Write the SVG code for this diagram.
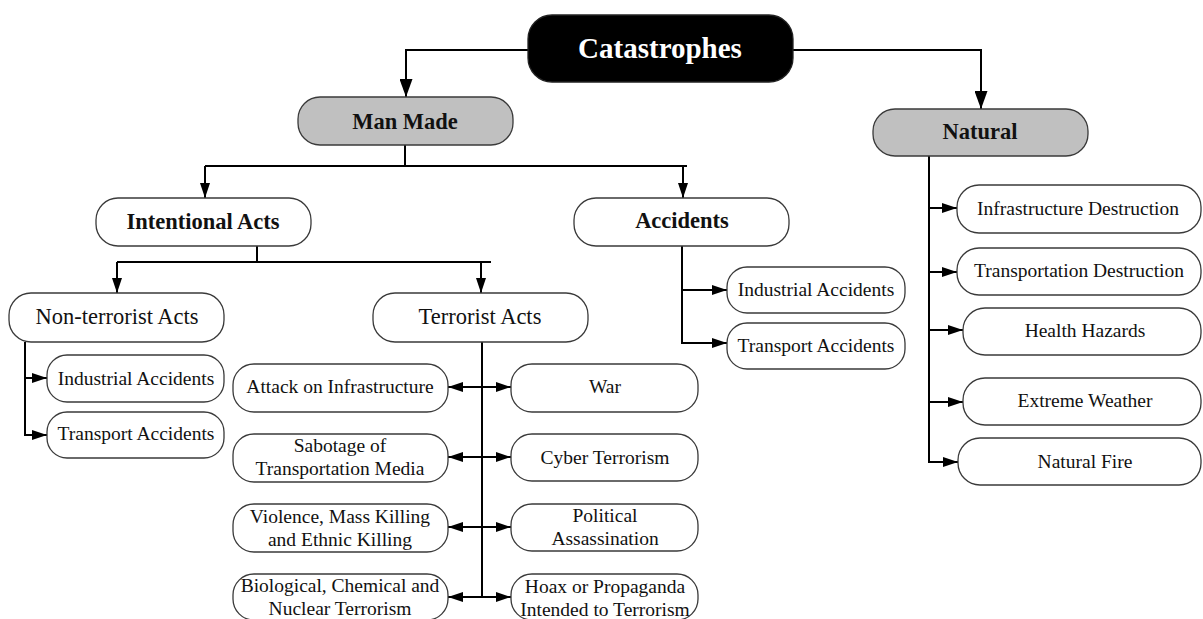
<svg xmlns="http://www.w3.org/2000/svg" width="1203" height="619" viewBox="0 0 1203 619">
<style>
  .box{fill:#fff;stroke:#3a3a3a;stroke-width:1.3}
  .gray{fill:#c0c0c0;stroke:#3a3a3a;stroke-width:1.3}
  .root{fill:#000;stroke:#222;stroke-width:1.3}
  text{font-family:"Liberation Serif","Times New Roman",serif;fill:#111;text-anchor:middle}
  .b{font-weight:bold;font-size:22.5px}
  .m{font-size:22.5px}
  .s{font-size:19.5px}
  .w{fill:#fff;font-weight:bold;font-size:29px}
  .c{fill:none;stroke:#000;stroke-width:2}
  .a{marker-end:url(#ah)}
  .A{marker-end:url(#AH)}
  .d{marker-start:url(#ah);marker-end:url(#ah)}
</style>
<defs>
  <marker id="ah" markerUnits="userSpaceOnUse" viewBox="0 0 15 10" refX="15" refY="5" markerWidth="15" markerHeight="10" orient="auto-start-reverse">
    <path d="M0,0 L15,5 L0,10 Z" fill="#000"/>
  </marker>
  <marker id="AH" markerUnits="userSpaceOnUse" viewBox="0 0 18 13" refX="18" refY="6.5" markerWidth="18" markerHeight="13" orient="auto-start-reverse">
    <path d="M0,0 L18,6.5 L0,13 Z" fill="#000"/>
  </marker>
</defs>

<g id="connectors">
  <path class="c A" d="M528,50 H406 V97"/>
  <path class="c A" d="M793,50 H981 V109"/>
  <path class="c" d="M405,145 V166 M205,166 H687"/>
  <path class="c a" d="M205,166 V198"/>
  <path class="c a" d="M683,166 V198"/>
  <path class="c" d="M257,246 V262 M117,262 H491"/>
  <path class="c a" d="M117,262 V293"/>
  <path class="c a" d="M481,262 V293"/>
  <path class="c a" d="M25,342 V435 H47"/>
  <path class="c a" d="M25,378 H47"/>
  <path class="c" d="M482,342 V597"/>
  <path class="c d" d="M448,387 H511"/>
  <path class="c d" d="M448,457 H511"/>
  <path class="c d" d="M448,527 H511"/>
  <path class="c d" d="M448,597 H511"/>
  <path class="c a" d="M682,246 V343 H727"/>
  <path class="c a" d="M682,290 H727"/>
  <path class="c a" d="M929,156 V462 H958"/>
  <path class="c a" d="M929,208 H957"/>
  <path class="c a" d="M929,272 H957"/>
  <path class="c a" d="M929,330 H963"/>
  <path class="c a" d="M929,402 H963"/>
</g>

<g id="catastrophes">
  <rect class="root" x="528" y="15" width="265" height="67" rx="24"/>
  <text class="w" x="660" y="58">Catastrophes</text>
</g>
<g id="man-made">
  <rect class="gray" x="298" y="97" width="215" height="48" rx="22"/>
  <text class="b" x="405" y="129">Man Made</text>
</g>
<g id="natural">
  <rect class="gray" x="873" y="109" width="215" height="47" rx="22"/>
  <text class="b" x="980" y="139">Natural</text>
</g>
<g id="intentional-acts">
  <rect class="box" x="96" y="198" width="215" height="48" rx="22"/>
  <text class="b" x="203" y="229">Intentional Acts</text>
</g>
<g id="accidents">
  <rect class="box" x="574" y="198" width="215" height="48" rx="22"/>
  <text class="b" x="682" y="228">Accidents</text>
</g>
<g id="non-terrorist-acts">
  <rect class="box" x="9" y="293" width="215" height="49" rx="22"/>
  <text class="m" x="117" y="324">Non-terrorist Acts</text>
</g>
<g id="terrorist-acts">
  <rect class="box" x="373" y="293" width="215" height="49" rx="22"/>
  <text class="m" x="480" y="324">Terrorist Acts</text>
</g>
<g id="nt-industrial-accidents">
  <rect class="box" x="47" y="355" width="177" height="47" rx="20"/>
  <text class="s" x="136" y="385">Industrial Accidents</text>
</g>
<g id="nt-transport-accidents">
  <rect class="box" x="47" y="412" width="177" height="46" rx="20"/>
  <text class="s" x="136" y="440">Transport Accidents</text>
</g>
<g id="attack-on-infrastructure">
  <rect class="box" x="233" y="364" width="215" height="48" rx="21"/>
  <text class="s" x="340" y="393">Attack on Infrastructure</text>
</g>
<g id="sabotage">
  <rect class="box" x="233" y="434" width="215" height="48" rx="21"/>
  <text class="s" x="340" y="452">Sabotage of</text>
  <text class="s" x="340" y="475">Transportation Media</text>
</g>
<g id="violence">
  <rect class="box" x="233" y="504" width="215" height="48" rx="21"/>
  <text class="s" x="340" y="523">Violence, Mass Killing</text>
  <text class="s" x="340" y="546">and Ethnic Killing</text>
</g>
<g id="biological">
  <rect class="box" x="233" y="574" width="215" height="46" rx="21"/>
  <text class="s" x="340" y="592">Biological, Chemical and</text>
  <text class="s" x="340" y="615">Nuclear Terrorism</text>
</g>
<g id="war">
  <rect class="box" x="511" y="364" width="187" height="48" rx="21"/>
  <text class="s" x="605" y="393">War</text>
</g>
<g id="cyber-terrorism">
  <rect class="box" x="511" y="434" width="187" height="47" rx="21"/>
  <text class="s" x="605" y="464">Cyber Terrorism</text>
</g>
<g id="political-assassination">
  <rect class="box" x="511" y="504" width="187" height="47" rx="21"/>
  <text class="s" x="605" y="522">Political</text>
  <text class="s" x="605" y="545">Assassination</text>
</g>
<g id="hoax">
  <rect class="box" x="511" y="574" width="187" height="46" rx="21"/>
  <text class="s" x="605" y="593">Hoax or Propaganda</text>
  <text class="s" x="605" y="616">Intended to Terrorism</text>
</g>
<g id="ac-industrial-accidents">
  <rect class="box" x="727" y="267" width="178" height="46" rx="20"/>
  <text class="s" x="816" y="296">Industrial Accidents</text>
</g>
<g id="ac-transport-accidents">
  <rect class="box" x="727" y="323" width="178" height="46" rx="20"/>
  <text class="s" x="816" y="352">Transport Accidents</text>
</g>
<g id="infrastructure-destruction">
  <rect class="box" x="957" y="185" width="244" height="48" rx="22"/>
  <text class="s" x="1078" y="215">Infrastructure Destruction</text>
</g>
<g id="transportation-destruction">
  <rect class="box" x="957" y="248" width="244" height="47" rx="22"/>
  <text class="s" x="1079" y="277">Transportation Destruction</text>
</g>
<g id="health-hazards">
  <rect class="box" x="963" y="308" width="238" height="47" rx="22"/>
  <text class="s" x="1085" y="337">Health Hazards</text>
</g>
<g id="extreme-weather">
  <rect class="box" x="963" y="378" width="238" height="47" rx="22"/>
  <text class="s" x="1085" y="407">Extreme Weather</text>
</g>
<g id="natural-fire">
  <rect class="box" x="958" y="438" width="243" height="47" rx="22"/>
  <text class="s" x="1085" y="468">Natural Fire</text>
</g>
</svg>
